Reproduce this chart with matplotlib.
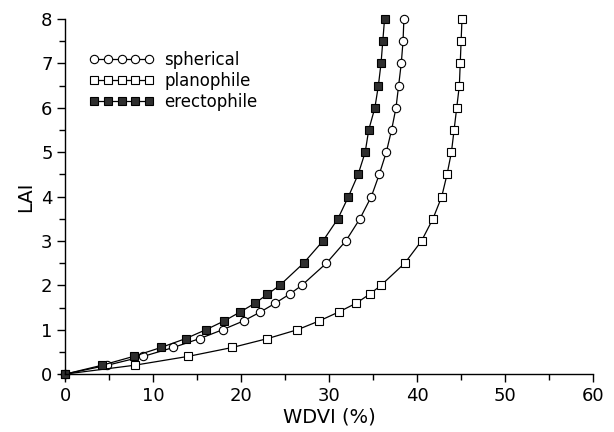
import matplotlib.pyplot as plt
from matplotlib.ticker import MultipleLocator

# LAI levels at which each curve is sampled
LAI = [0, 0.2, 0.4, 0.6, 0.8, 1.0, 1.2, 1.4, 1.6, 1.8, 2.0,
       2.5, 3.0, 3.5, 4.0, 4.5, 5.0, 5.5, 6.0, 6.5, 7.0, 7.5, 8.0]

# WDVI (%)
WDVI_SPHERICAL = [0, 4.8, 8.9, 12.3, 15.3, 17.9, 20.3, 22.2, 23.9, 25.5, 26.9,
                  29.7, 31.9, 33.5, 34.8, 35.7, 36.5, 37.1, 37.6, 37.9, 38.2, 38.4, 38.5]
WDVI_PLANOPHILE = [0, 7.9, 14.0, 19.0, 23.0, 26.4, 28.9, 31.1, 33.1, 34.6, 35.9,
                   38.6, 40.5, 41.8, 42.8, 43.4, 43.9, 44.2, 44.5, 44.8, 44.9, 45.0, 45.1]
WDVI_ERECTOPHILE = [0, 4.2, 7.8, 10.9, 13.7, 16.0, 18.1, 19.9, 21.6, 23.0, 24.4,
                    27.1, 29.3, 31.0, 32.2, 33.3, 34.1, 34.5, 35.2, 35.6, 35.9, 36.1, 36.3]

fig = plt.figure(figsize=(6.14, 4.32), dpi=100)
ax = fig.add_axes([0.106, 0.134, 0.86, 0.822])

ax.plot(WDVI_SPHERICAL, LAI, color="black", lw=0.9, marker="o", ms=6,
        mfc="white", mec="black", mew=0.8, label="spherical", clip_on=False)
ax.plot(WDVI_PLANOPHILE, LAI, color="black", lw=0.9, marker="s", ms=5.5,
        mfc="white", mec="black", mew=0.8, label="planophile", clip_on=False)
ax.plot(WDVI_ERECTOPHILE, LAI, color="black", lw=0.9, marker="s", ms=5.5,
        mfc="#2e2e2e", mec="black", mew=0.8, label="erectophile", clip_on=False)

ax.set_xlim(0, 60)
ax.set_ylim(0, 8)
ax.xaxis.set_major_locator(MultipleLocator(10))
ax.xaxis.set_minor_locator(MultipleLocator(5))
ax.yaxis.set_major_locator(MultipleLocator(1))
ax.yaxis.set_minor_locator(MultipleLocator(0.5))
ax.tick_params(which="major", length=6, width=1, direction="out", labelsize=13, pad=3)
ax.tick_params(which="minor", length=4, width=1, direction="out")
for side in ("top", "right"):
    ax.spines[side].set_visible(False)
for side in ("left", "bottom"):
    ax.spines[side].set_linewidth(1.0)

ax.set_xlabel("WDVI (%)", fontsize=14, labelpad=2)
ax.set_ylabel("LAI", fontsize=14, labelpad=4)

ax.legend(loc="upper left", bbox_to_anchor=(0.033, 0.93), frameon=False,
          numpoints=5, handlelength=3.9, handletextpad=0.6, labelspacing=0.2,
          fontsize=12, borderaxespad=0)

fig.savefig("out.png", dpi=100)
